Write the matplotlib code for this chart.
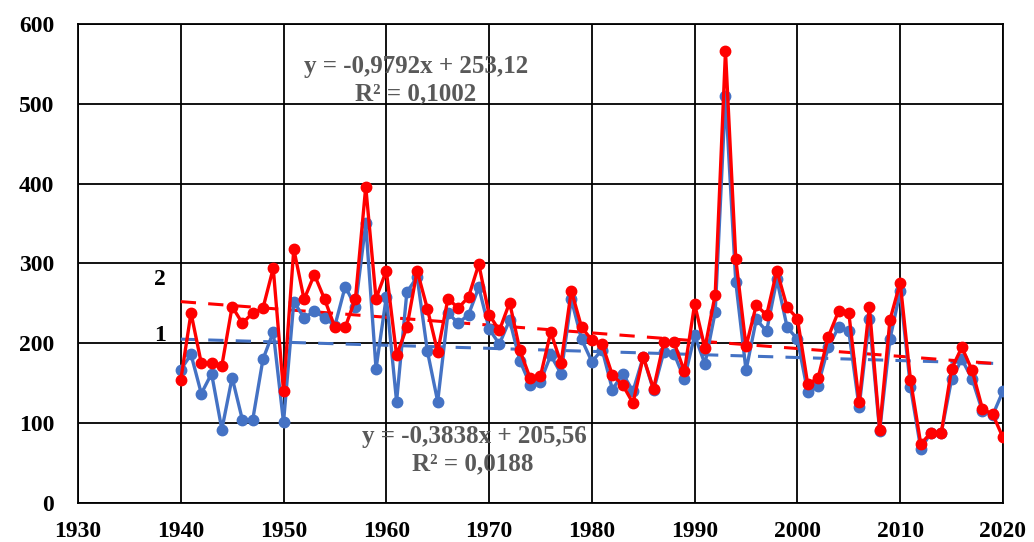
import numpy as np
import matplotlib
matplotlib.use("Agg")
import matplotlib.pyplot as plt

# years and the two series
years = np.arange(1940, 2021)

series_1 = [167, 186, 137, 162, 92, 157, 104, 104, 180, 214,
            101, 252, 232, 240, 232, 222, 271, 246, 350, 168,
            258, 127, 264, 283, 190, 127, 238, 225, 236, 270,
            218, 199, 229, 178, 148, 152, 185, 162, 255, 205,
            177, 192, 142, 162, 140, 183, 141, 189, 187, 155,
            210, 174, 239, 510, 277, 166, 230, 215, 280, 220,
            205, 139, 147, 195, 220, 215, 120, 230, 90, 205,
            265, 145, 68, 88, 88, 155, 180, 155, 115, 110,
            140]

series_2 = [154, 238, 175, 175, 172, 246, 225, 238, 244, 294,
            140, 318, 255, 286, 255, 220, 220, 256, 396, 256,
            291, 185, 220, 291, 243, 189, 256, 244, 258, 299,
            236, 216, 251, 191, 156, 159, 214, 175, 266, 220,
            204, 199, 160, 148, 125, 183, 143, 201, 201, 165,
            249, 194, 261, 566, 306, 196, 248, 235, 291, 245,
            231, 149, 156, 208, 240, 238, 126, 246, 92, 229,
            276, 154, 74, 88, 88, 168, 195, 166, 118, 111,
            82]

# trend coefficients shown on the chart (x = 1, 2, ... n)
trend_1 = (-0.3838, 205.56)
trend_2 = (-0.9792, 253.12)

x_ticks = list(range(1930, 2021, 10))
y_ticks = list(range(0, 601, 100))

blue = "#4472C4"
red = "#FF0000"
grey = "#595959"
serif = "Liberation Serif"

fig = plt.figure(figsize=(10.34, 5.42), dpi=100)
ax = fig.add_axes([0.0754, 0.072, 0.8946, 0.884])

idx = np.arange(1, len(years) + 1)
ax.plot(years, trend_1[0] * idx + trend_1[1], color=blue, lw=2.2, ls=(0, (5, 4)), zorder=2)
ax.plot(years, trend_2[0] * idx + trend_2[1], color=red, lw=2.2, ls=(0, (5, 4)), zorder=2)

ax.plot(years, series_1, color=blue, lw=2.4, marker="o", ms=7.5, zorder=3)
ax.plot(years, series_2, color=red, lw=2.4, marker="o", ms=7.5, zorder=4)

ax.set_xlim(1930, 2020)
ax.set_ylim(0, 600)
ax.set_xticks(x_ticks)
ax.set_yticks(y_ticks)
ax.grid(True, color="black", lw=1.3)
ax.set_axisbelow(True)
for s in ax.spines.values():
    s.set_color("black")
    s.set_linewidth(1.3)
ax.tick_params(axis="y", length=0, pad=17)
ax.tick_params(axis="x", length=0, pad=13)
for lab in ax.get_xticklabels() + ax.get_yticklabels():
    lab.set_fontfamily(serif)
    lab.set_fontweight("bold")
    lab.set_fontsize(17)

# equations
eq = dict(color=grey, fontsize=18, fontweight="bold", family=serif,
          ha="center", va="center")
ax.text(1962.9, 547, "y = -0,9792x + 253,12", **eq)
ax.text(1962.9, 513, "R² = 0,1002", **eq)
ax.text(1968.6, 83, "y = -0,3838x + 205,56", **eq)
ax.text(1968.4, 49, "R² = 0,0188", **eq)

# series numbers
ax.text(1938, 210, "1", fontsize=17, fontweight="bold", family=serif,
        ha="center", va="center")
ax.text(1938, 280, "2", fontsize=17, fontweight="bold", family=serif,
        ha="center", va="center")

fig.savefig("out.png", dpi=100)
